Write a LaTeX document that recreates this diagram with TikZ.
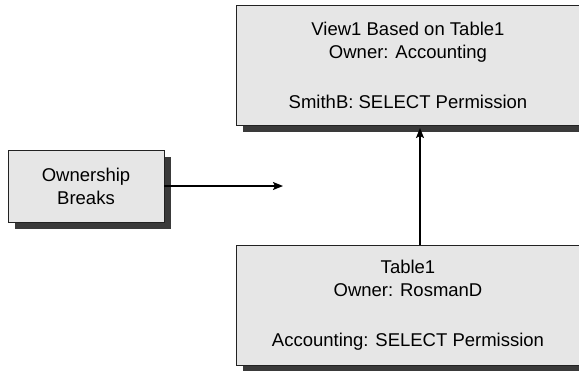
\documentclass[tikz,border=0pt]{standalone}
\usepackage{fontspec}
\setmainfont{Liberation Sans}
\usetikzlibrary{arrows.meta,shadows}
\definecolor{boxfill}{HTML}{E6E6E6}
\definecolor{shadowgray}{HTML}{3A3A3A}
\definecolor{edgecol}{HTML}{222222}
\tikzset{
  objbox/.style={draw=edgecol, line width=0.9pt, fill=boxfill, inner sep=0pt,
    align=center, text=black, font=\fontsize{18.5}{23}\selectfont,
    general shadow={fill=shadowgray, shadow xshift=7pt, shadow yshift=-7pt}},
  conn/.style={line width=1.4pt, -{Stealth[length=10pt,width=8pt,inset=2pt]}}
}
\begin{document}
\begin{tikzpicture}[x=1pt,y=-1pt]
\useasboundingbox (0,0) rectangle (579,370);
\node[objbox, minimum width=344pt, minimum height=120pt] (view) at (408,65)
  {View1 Based on Table1\\Owner: Accounting\\[27pt]SmithB: SELECT Permission};
\node[objbox, minimum width=344pt, minimum height=120pt] (table) at (408,305)
  {Table1\\Owner: RosmanD\\[27pt]Accounting: SELECT Permission};
\node[objbox, minimum width=156pt, minimum height=72pt] (own) at (86,186)
  {Ownership\\Breaks};
\coordinate (htip) at (283,186);
\coordinate (vtip) at (420,128);
\draw[conn] (own.east) -- (htip);
\draw[conn] (table.north -| vtip) -- (vtip);
\end{tikzpicture}
\end{document}
